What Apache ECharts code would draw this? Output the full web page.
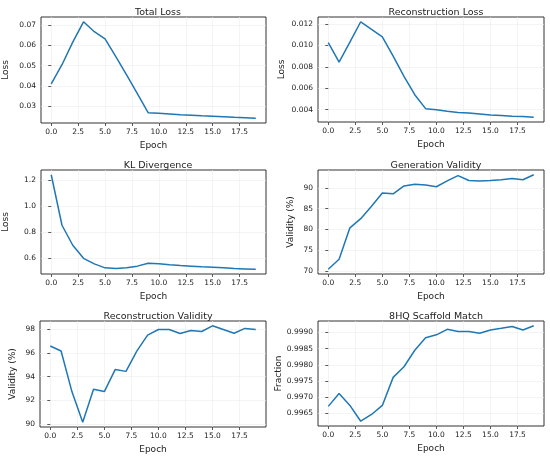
<!DOCTYPE html>
<html>
<head>
<meta charset="utf-8">
<script src="https://cdn.jsdelivr.net/npm/echarts@6/dist/echarts.min.js"></script>
<style>
  html, body { margin: 0; padding: 0; background: #fff; }
  #chart { width: 550px; height: 458px; }
</style>
</head>
<body>
<div id="chart"></div>
<script>
const epochs = [0, 1, 2, 3, 4, 5, 6, 7, 8, 9, 10, 11, 12, 13, 14, 15, 16, 17, 18, 19];
const epochTicks = [0, 2.5, 5, 7.5, 10, 12.5, 15, 17.5];

const totalLoss = [0.0410, 0.0505, 0.0617, 0.0717, 0.0668, 0.0633, 0.0545, 0.0455, 0.0362, 0.0268,
  0.0265, 0.0262, 0.0258, 0.0256, 0.0253, 0.0251, 0.0248, 0.0245, 0.0243, 0.0241];
const reconLoss = [0.01025, 0.00844, 0.0103, 0.0122, 0.0115, 0.0108, 0.0090, 0.0071, 0.0054, 0.0041,
  0.0040, 0.00385, 0.00375, 0.0037, 0.0036, 0.0035, 0.00345, 0.0034, 0.00337, 0.0033];
const klDiv = [1.24, 0.853, 0.70, 0.60, 0.557, 0.527, 0.522, 0.528, 0.540, 0.562,
  0.558, 0.551, 0.545, 0.540, 0.535, 0.531, 0.527, 0.522, 0.519, 0.516];
const genValidity = [70.4, 72.8, 80.4, 82.6, 85.6, 88.8, 88.6, 90.5, 90.9, 90.7,
  90.3, 91.7, 93.0, 91.8, 91.7, 91.8, 92.0, 92.3, 92.0, 93.2];
const reconValidity = [96.58, 96.16, 92.75, 90.18, 92.95, 92.75, 94.6, 94.45, 96.15, 97.5,
  97.97, 97.97, 97.63, 97.89, 97.8, 98.28, 97.97, 97.66, 98.06, 97.97];
const scaffoldMatch = [0.99671, 0.99711, 0.99674, 0.99625, 0.99646, 0.99674, 0.99761, 0.99794, 0.99845, 0.99884,
  0.99893, 0.99910, 0.99903, 0.99903, 0.99898, 0.99908, 0.99913, 0.99919, 0.99908, 0.99921];

const totalTicks = [0.03, 0.04, 0.05, 0.06, 0.07];
const reconTicks = [0.004, 0.006, 0.008, 0.010, 0.012];
const klTicks = [0.6, 0.8, 1.0, 1.2];
const genTicks = [70, 75, 80, 85, 90];
const reconValTicks = [90, 92, 94, 96, 98];
const scaffoldTicks = [0.9965, 0.9970, 0.9975, 0.9980, 0.9985, 0.9990];

const ink = '#222';
const gridColor = '#ececec';

// one entry per subplot: title, values, ticks, decimals, y label, placement
const panels = [
  { title: 'Total Loss', data: totalLoss, ticks: totalTicks, dec: 2, name: 'Loss', gap: 31, left: 40, top: 17, h: 106 },
  { title: 'Reconstruction Loss', data: reconLoss, ticks: reconTicks, dec: 3, name: 'Loss', gap: 32, left: 318, top: 17, h: 105 },
  { title: 'KL Divergence', data: klDiv, ticks: klTicks, dec: 1, name: 'Loss', gap: 31, left: 40, top: 170, h: 104 },
  { title: 'Generation Validity', data: genValidity, ticks: genTicks, dec: 0, name: 'Validity (%)', gap: 23, left: 318, top: 170, h: 104 },
  { title: 'Reconstruction Validity', data: reconValidity, ticks: reconValTicks, dec: 0, name: 'Validity (%)', gap: 23, left: 40, top: 321, h: 106 },
  { title: '8HQ Scaffold Match', data: scaffoldMatch, ticks: scaffoldTicks, dec: 4, name: 'Fraction', gap: 32, left: 318, top: 321, h: 105 }
];

const W = 226;

function pad(values) {
  const lo = Math.min(...values), hi = Math.max(...values);
  const m = (hi - lo) * 0.05;
  return [lo - m, hi + m];
}

const chart = echarts.init(document.getElementById('chart'), null, { renderer: 'canvas' });

const option = {
  backgroundColor: '#fff',
  animation: false,
  title: panels.map(p => ({
    text: p.title,
    left: p.left + W / 2,
    top: p.top - 14,
    textAlign: 'center',
    textStyle: { fontFamily: 'DejaVu Sans', fontSize: 9.5, fontWeight: 'normal', color: ink }
  })),
  grid: panels.map(p => ({
    left: p.left, top: p.top, width: W, height: p.h,
    show: true, borderColor: '#333', borderWidth: 1, backgroundColor: 'transparent'
  })),
  xAxis: panels.map((p, i) => ({
    type: 'value',
    gridIndex: i,
    min: -0.95,
    max: 19.95,
    name: 'Epoch',
    nameLocation: 'middle',
    nameGap: 18,
    nameTextStyle: { fontFamily: 'DejaVu Sans', fontSize: 9, color: ink },
    axisLine: { show: false },
    axisTick: { show: true, length: 3, lineStyle: { color: '#333', width: 0.8 }, customValues: epochTicks },
    axisLabel: {
      customValues: epochTicks,
      fontFamily: 'DejaVu Sans', fontSize: 7.5, color: ink, margin: 5,
      formatter: v => v.toFixed(1)
    },
    splitLine: { show: true, lineStyle: { color: gridColor, width: 0.6 } }
  })),
  yAxis: panels.map((p, i) => {
    const [lo, hi] = pad(p.data);
    return {
      type: 'value',
      gridIndex: i,
      min: lo,
      max: hi,
      name: p.name,
      nameLocation: 'middle',
      nameGap: p.gap,
      nameTextStyle: { fontFamily: 'DejaVu Sans', fontSize: 9, color: ink },
      axisLine: { show: false },
      axisTick: { show: true, length: 3, lineStyle: { color: '#333', width: 0.8 }, customValues: p.ticks },
      axisLabel: {
        customValues: p.ticks,
        fontFamily: 'DejaVu Sans', fontSize: 7.5, color: ink, margin: 5,
        formatter: v => v.toFixed(p.dec)
      },
      splitLine: { show: true, lineStyle: { color: gridColor, width: 0.6 } }
    };
  }),
  series: panels.map((p, i) => ({
    type: 'line',
    xAxisIndex: i,
    yAxisIndex: i,
    data: epochs.map((e, k) => [e, p.data[k]]),
    showSymbol: false,
    lineStyle: { color: '#1f77b4', width: 1.5 },
    itemStyle: { color: '#1f77b4' }
  }))
};

chart.setOption(option);
</script>
</body>
</html>
